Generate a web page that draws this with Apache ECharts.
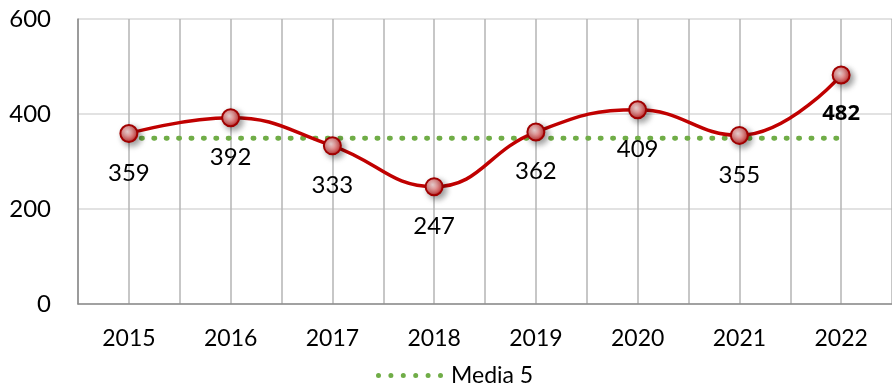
<!DOCTYPE html>
<html>
<head>
<meta charset="utf-8">
<script src="https://cdn.jsdelivr.net/npm/echarts@6/dist/echarts.min.js"></script>
<style>
  html, body { margin: 0; padding: 0; background: #ffffff; }
  #chart { width: 892px; height: 387px; }
</style>
</head>
<body>
<div id="chart"></div>
<script>
// Yearly values and their 5-year mean
const years = ['2015', '2016', '2017', '2018', '2019', '2020', '2021', '2022'];
const values = [359, 392, 333, 247, 362, 409, 355, 482];
const media5 = [349, 349, 349, 349, 349, 349, 349, 349];
const yTicks = [0, 200, 400, 600];
const highlightYear = '2022';

const FONT = 'Lato, "Open Sans", sans-serif';
const BOLD_FONT = '"Open Sans", "Noto Sans", sans-serif';

// half-slot category list used only to place gridlines at centres and boundaries
const halfSlots = [];
years.forEach(function (y) { halfSlots.push(y + 'a', y + 'b'); });

// legend icon: a row of six round dots
function dotRowPath(count, step, r) {
  let d = '';
  for (let i = 0; i < count; i++) {
    const cx = r + i * step;
    d += 'M' + (cx - r) + ',' + r + ' A' + r + ',' + r + ' 0 1,1 ' + (cx + r) + ',' + r +
         ' A' + r + ',' + r + ' 0 1,1 ' + (cx - r) + ',' + r + ' Z ';
  }
  return 'path://' + d;
}

const chart = echarts.init(document.getElementById('chart'), null, { renderer: 'canvas' });

// glossy red ball marker
const ballFill = new echarts.graphic.RadialGradient(0.42, 0.4, 0.62, [
  { offset: 0, color: '#fbe0e0' },
  { offset: 0.35, color: '#eba3a3' },
  { offset: 0.72, color: '#d05a5a' },
  { offset: 1, color: '#b00000' }
]);

chart.setOption({
  animation: false,
  textStyle: { fontFamily: FONT },
  grid: { left: 78, right: -2, top: 19, bottom: 83, containLabel: false },
  legend: {
    left: 371,
    top: 359,
    itemWidth: 67,
    itemHeight: 5,
    itemGap: 8,
    data: [{ name: 'Media 5', icon: dotRowPath(6, 12.4, 2.5), itemStyle: { color: '#70ad47' } }],
    textStyle: { fontFamily: FONT, fontSize: 23, color: '#000000', padding: [0, 0, 0, 3] }
  },
  xAxis: [
    {
      type: 'category',
      data: years,
      boundaryGap: true,
      axisLine: { show: true, lineStyle: { color: '#8c8c8c', width: 1.5 } },
      axisTick: { show: false },
      splitLine: { show: false },
      axisLabel: { fontFamily: FONT, fontSize: 23, color: '#000000', margin: 23, lineHeight: 24 }
    },
    {
      type: 'category',
      data: halfSlots,
      position: 'bottom',
      boundaryGap: true,
      axisLine: { show: false },
      axisTick: { show: false },
      axisLabel: { show: false },
      splitLine: { show: true, interval: 0, lineStyle: { color: '#b5b5b5', width: 1.5 } }
    }
  ],
  yAxis: {
    type: 'value',
    min: yTicks[0],
    max: yTicks[yTicks.length - 1],
    interval: yTicks[1] - yTicks[0],
    axisLine: { show: true, lineStyle: { color: '#8c8c8c', width: 1.5 } },
    axisTick: { show: false },
    splitLine: { show: true, lineStyle: { color: '#d9d9d9', width: 1.5 } },
    axisLabel: { fontFamily: FONT, fontSize: 24, color: '#000000', margin: 27 }
  },
  series: [
    {
      name: 'Media 5',
      type: 'line',
      data: media5,
      symbol: 'none',
      z: 2,
      lineStyle: { color: '#70ad47', width: 4.8, type: [1.2, 11.2], cap: 'round' },
      itemStyle: { color: '#70ad47' }
    },
    {
      name: 'Valori',
      type: 'line',
      data: values.map(function (v, i) {
        const item = { value: v };
        if (years[i] === highlightYear) {
          item.label = { fontWeight: 'bold', fontFamily: BOLD_FONT, fontSize: 22, distance: 18 };
        }
        return item;
      }),
      smooth: 0.45,
      z: 3,
      symbol: 'circle',
      symbolSize: 17,
      lineStyle: { color: '#c00000', width: 3.5 },
      itemStyle: {
        color: ballFill,
        borderColor: '#a00000',
        borderWidth: 2,
        shadowColor: 'rgba(0,0,0,0.4)',
        shadowBlur: 6,
        shadowOffsetX: 3,
        shadowOffsetY: 3
      },
      label: {
        show: true,
        position: 'bottom',
        distance: 18,
        fontFamily: FONT,
        fontSize: 24,
        color: '#000000'
      }
    }
  ]
});
</script>
</body>
</html>
